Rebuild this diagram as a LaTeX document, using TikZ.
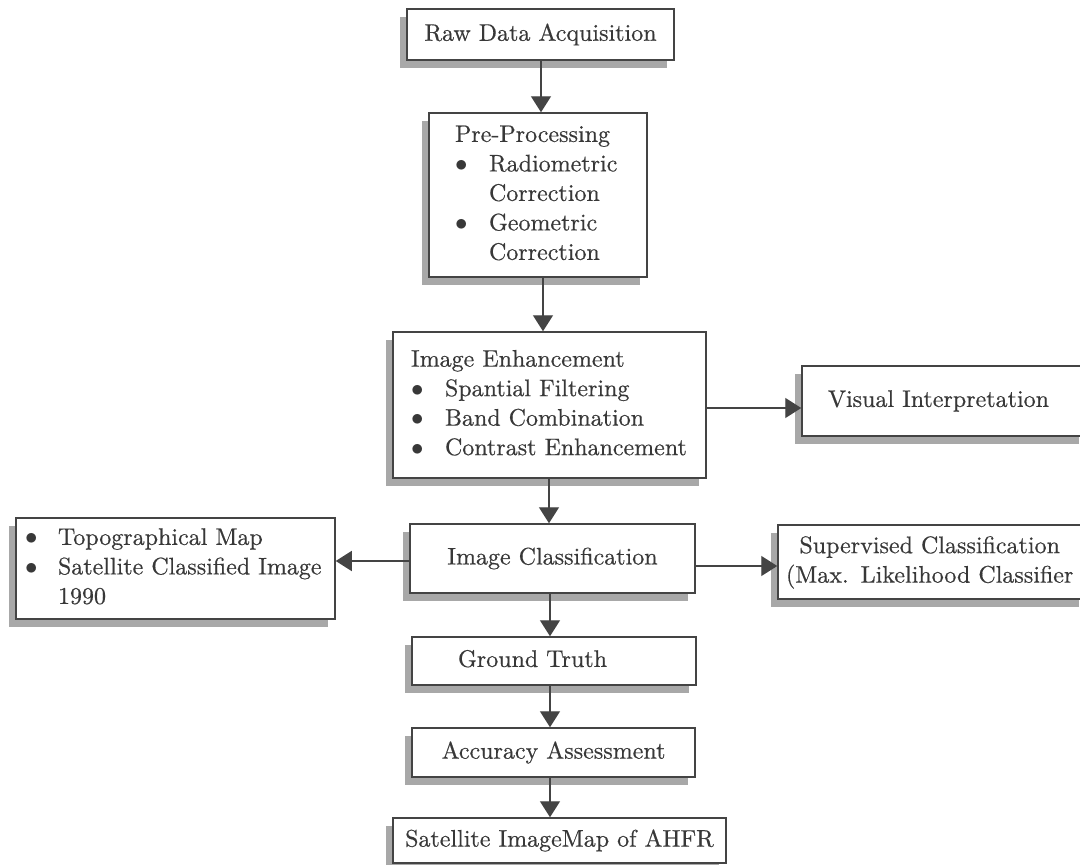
\documentclass[tikz,border=0pt]{standalone}
\usepackage{fontspec}
\setmainfont{lmroman10-regular}[Extension=.otf, FakeBold=0.5]
\usetikzlibrary{arrows.meta,shadows}
\definecolor{linecol}{HTML}{444444}
\definecolor{textcol}{HTML}{383838}
\definecolor{shadowcol}{HTML}{A8A8A8}
\newcommand{\mybul}{\makebox[34pt][l]{$\bullet$}}
\newcommand{\myind}{\hspace*{34pt}}
\newcommand{\mybulb}{\makebox[33pt][l]{$\bullet$}}
\newcommand{\myindb}{\hspace*{33pt}}
\tikzset{
  box/.style={draw=linecol, line width=1.5pt, fill=white, text=textcol,
    general shadow={fill=shadowcol, shadow xshift=-7.5pt, shadow yshift=-7.5pt},
    inner ysep=0pt, anchor=center, font=\fontsize{24}{29.5}\selectfont},
  arr/.style={draw=linecol, line width=1.4pt, -{Triangle[width=20pt,length=16pt]}}
}
\begin{document}
\begin{tikzpicture}[x=1pt,y=-1pt]
\useasboundingbox (0,0) rectangle (1080,865);
\clip (0,0) rectangle (1080,865);
\fill[white] (0,0) rectangle (1080,865);

\node[box, minimum width=267pt, minimum height=51pt, align=center] (raw) at (540.5,34.5) {Raw Data Acquisition};

\node[box, minimum width=218pt, minimum height=164pt, text width=166pt, inner xsep=26pt, align=left] (pre) at (538,195)
  {\begin{tabular}{@{}l@{}}Pre-Processing\\ \mybul Radiometric\\ \myind Correction\\ \mybul Geometric\\ \myind Correction\end{tabular}};

\node[box, minimum width=313pt, minimum height=146pt, text width=277pt, inner xsep=18pt, align=left] (enh) at (549.5,405)
  {\begin{tabular}{@{}l@{}}Image Enhancement\\ \mybul Spantial Filtering\\ \mybul Band Combination\\ \mybul Contrast Enhancement\end{tabular}};

\node[box, minimum width=284pt, minimum height=70pt, text width=232pt, inner xsep=26pt, align=left] (vis) at (944,401)
  {\begin{tabular}{@{}l@{}}Visual Interpretation\end{tabular}};

\node[box, minimum width=319pt, minimum height=101pt, text width=301pt, inner xsep=9pt, align=left] (topo) at (175.5,568.5)
  {\begin{tabular}{@{}l@{}}\mybulb Topographical Map\\ \mybulb Satellite Classified Image\\ \myindb 1990\end{tabular}};

\node[box, minimum width=285pt, minimum height=69pt, align=center] (cls) at (552.5,558.5) {Image Classification};

\node[box, minimum width=308pt, minimum height=74pt, text width=292pt, inner xsep=8pt, align=left] (sup) at (932,562)
  {\begin{tabular}{@{}c@{}}Supervised Classification\\ (Max. Likelihood Classifier\end{tabular}};

\node[box, minimum width=284pt, minimum height=48pt, text width=192pt, inner xsep=46pt, align=left] (gt) at (554,661)
  {\begin{tabular}{@{}l@{}}Ground Truth\end{tabular}};

\node[box, minimum width=283pt, minimum height=49pt, align=center] (acc) at (553.5,752.5) {Accuracy Assessment};

\node[box, minimum width=333pt, minimum height=45pt, align=center] (sat) at (559.5,840.5) {Satellite ImageMap of AHFR};

% connector guide coordinates
\coordinate (xa) at (541,0);
\coordinate (xb) at (543,0);
\coordinate (xc) at (549,0);
\coordinate (xd) at (550,0);
\coordinate (ya) at (0,408);
\coordinate (yb) at (0,561);
\coordinate (yc) at (0,566);

\draw[arr] (raw.south -| xa) -- (pre.north -| xa);
\draw[arr] (pre.south -| xb) -- (enh.north -| xb);
\draw[arr] (enh.east |- ya) -- (vis.west |- ya);
\draw[arr] (enh.south -| xc) -- (cls.north -| xc);
\draw[arr] (cls.west |- yb) -- (topo.east |- yb);
\draw[arr] (cls.east |- yc) -- (sup.west |- yc);
\draw[arr] (cls.south -| xd) -- (gt.north -| xd);
\draw[arr] (gt.south -| xd) -- (acc.north -| xd);
\draw[arr] (acc.south -| xd) -- (sat.north -| xd);
\end{tikzpicture}
\end{document}
